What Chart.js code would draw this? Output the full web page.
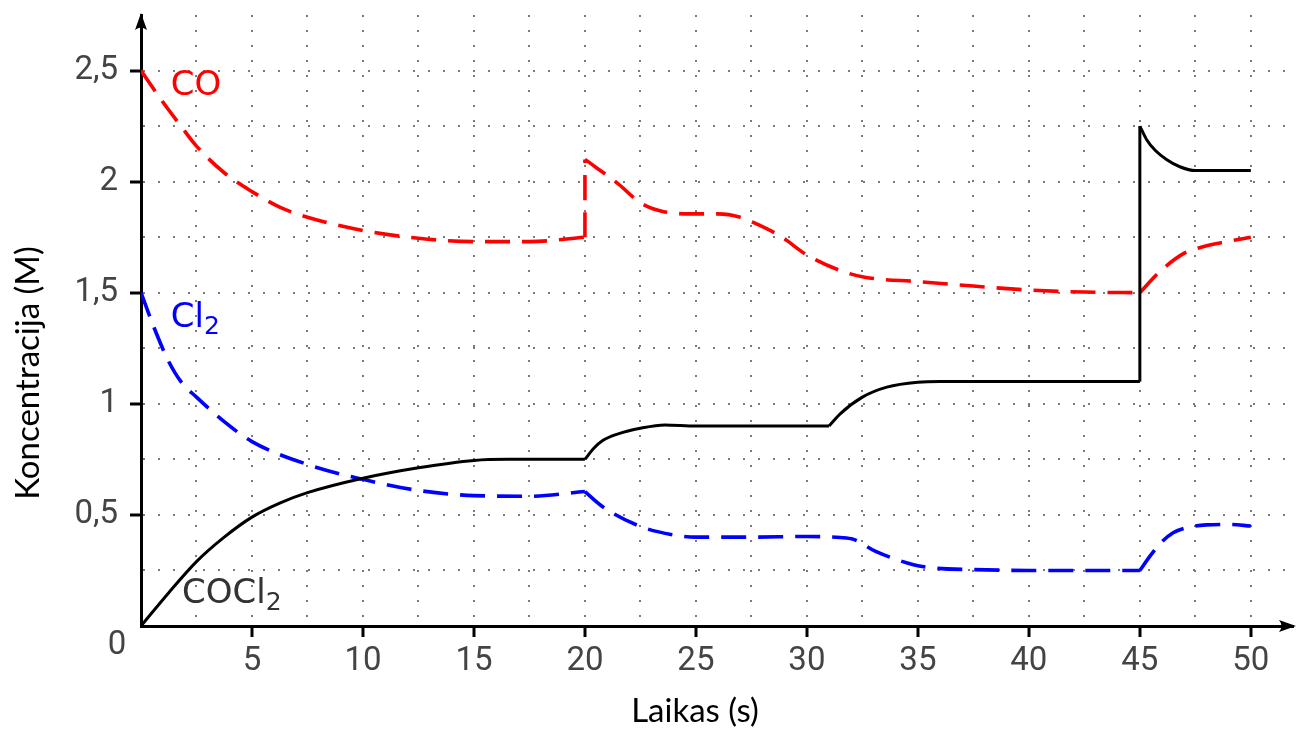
<!DOCTYPE html>
<html><head><meta charset="utf-8">
<script src="https://cdn.jsdelivr.net/npm/chart.js@4.4.1/dist/chart.umd.min.js"></script>
<style>html,body{margin:0;padding:0;background:#fff;}#wrap{width:1296px;height:729px;position:relative;}</style>
</head><body><div id="wrap"><canvas id="c" width="1296" height="729" style="width:1296px;height:729px"></canvas></div>
<script>
// ---- data (time in s, concentration in M) ----
const coTime   = [0,0.9,1.8,2.5,3.75,5,6.25,7.5,10,12.5,15,17.5,20, 20,21.5,22.5,23.5,24.8,26,27,27.5,28.8,30,31.5,32.6,35,37.5,40,42.5,45, 45.9,47,47.6,48.5,50];
const coConc   = [2.5,2.37,2.25,2.16,2.04,1.955,1.885,1.84,1.78,1.745,1.73,1.73,1.75, 2.1,1.99,1.905,1.866,1.855,1.855,1.84,1.82,1.755,1.67,1.6,1.57,1.55,1.53,1.512,1.503,1.5, 1.595,1.678,1.70,1.722,1.75];
const coBreaks = [20,45];

const cl2Time   = [0,0.6,1.2,1.8,2.5,3.75,5,7.5,10,12.5,15,17.5,20, 20.8,22.5,24,25,27.5,30,31.5,32.1,33.1,34.8,35.8,37.5,40,45, 45.5,46,46.5,47,48,49,50];
const cl2Conc   = [1.5,1.34,1.2,1.1,1.03,0.92,0.83,0.727,0.66,0.61,0.587,0.584,0.605, 0.537,0.448,0.41,0.40,0.40,0.403,0.398,0.39,0.336,0.276,0.26,0.254,0.25,0.25, 0.32,0.38,0.42,0.44,0.455,0.457,0.45];
const cl2Breaks = [20,45];

const cocl2Time   = [0,1.25,2.5,3.75,5,6.25,7.5,10,12.5,15,16.5,20, 20.4,20.8,21.5,22.5,23.6,25,28,31, 31.5,32.5,33.6,35,36,45, 45,45.3,45.7,46.2,46.8,47.5,50];
const cocl2Conc   = [0,0.15,0.29,0.40,0.49,0.553,0.60,0.665,0.712,0.745,0.75,0.75, 0.80,0.835,0.865,0.89,0.905,0.90,0.90,0.90, 0.955,1.03,1.075,1.097,1.1,1.1, 2.25,2.19,2.14,2.1,2.067,2.05,2.05];
const cocl2Breaks = [20,31,45];

const xTickLabels = [5,10,15,20,25,30,35,40,45,50];
const yTickLabels = ['0,5','1','1,5','2','2,5'];

const xMax = 51.9, yMax = 2.75;

// ---- helpers ----
function fontAvailable(name){
  const c=document.createElement('canvas').getContext('2d');
  c.font="40px monospace"; const a=c.measureText("0123456789 abc").width;
  c.font="40px '"+name+"', monospace"; const b=c.measureText("0123456789 abc").width;
  return a!==b;
}
const narrow = fontAvailable('Liberation Sans Narrow');
const tickFont = narrow ? {family:"'Liberation Sans Narrow'", size:36} : {family:"Roboto", size:33};
const labelFamily = "'DejaVu Sans', sans-serif";
const titleFamily = "Lato, 'Open Sans', sans-serif";

function segments(ts, vs, breaks){
  const segs=[]; let cur=[];
  for(let i=0;i<ts.length;i++){
    const p={x:ts[i],y:vs[i]};
    cur.push(p);
    if(breaks.includes(ts[i]) && cur.length>1){ segs.push(cur); cur=[p]; }
  }
  if(cur.length>1) segs.push(cur);
  return segs;
}
function makeSets(ts, vs, breaks, color, dash, width){
  return segments(ts, vs, breaks).map(seg=>({
    data: seg, borderColor: color, borderWidth: width, borderDash: dash,
    pointRadius: 0, fill:false, cubicInterpolationMode:'monotone', borderCapStyle:'butt'
  }));
}
const datasets = [
  ...makeSets(cocl2Time, cocl2Conc, cocl2Breaks, '#000000', [], 3),
  ...makeSets(cl2Time, cl2Conc, cl2Breaks, '#0000ff', [25,12], 3.6),
  ...makeSets(coTime, coConc, coBreaks, '#ff0000', [25,12], 3.6),
];

const near = (a,b)=>Math.abs(a-b)<1e-6;
const isX = v => xTickLabels.some(t=>near(t,v));
const yVals = yTickLabels.map(s=>parseFloat(s.replace(',','.')));
const isY = v => yVals.some(t=>near(t,v));

const decor = {
  id:'decor',
  afterDraw(chart){
    const {ctx, chartArea:a, scales:{x,y}} = chart;
    ctx.save();
    ctx.fillStyle='#000';
    let cx=a.left, ty=a.top-2;
    ctx.beginPath(); ctx.moveTo(cx,ty); ctx.lineTo(cx-6,ty+17); ctx.quadraticCurveTo(cx,ty+12,cx+6,ty+17); ctx.closePath(); ctx.fill();
    let tx=a.right+3, cy=a.bottom;
    ctx.beginPath(); ctx.moveTo(tx,cy); ctx.lineTo(tx-17,cy-6); ctx.quadraticCurveTo(tx-12,cy,tx-17,cy+6); ctx.closePath(); ctx.fill();
    ctx.font = tickFont.size+"px "+tickFont.family;
    ctx.fillStyle='#444'; ctx.textAlign='center'; ctx.textBaseline='middle';
    ctx.fillText('0', a.left-24, a.bottom+20);
    function chem(parts, t, c, color){
      let px=x.getPixelForValue(t), py=y.getPixelForValue(c);
      ctx.fillStyle=color; ctx.textAlign='left'; ctx.textBaseline='alphabetic';
      for(const [txt,sub] of parts){
        ctx.font = (sub?25:34)+"px "+labelFamily;
        ctx.fillText(txt, px, py+(sub?7:0));
        px += ctx.measureText(txt).width;
      }
    }
    chem([['CO',false]], 1.34, 2.39, '#ff0000');
    chem([['Cl',false],['2',true]], 1.34, 1.347, '#0000ff');
    chem([['COCl',false],['2',true]], 1.85, 0.104, '#333333');
    ctx.fillStyle='#000'; ctx.font="33px "+titleFamily; ctx.textAlign='center'; ctx.textBaseline='middle';
    ctx.fillText('Laikas (s)', 695, 711);
    ctx.translate(28, 373); ctx.rotate(-Math.PI/2);
    ctx.fillText('Koncentracija (M)', 0, 0);
    ctx.restore();
  }
};

const gridColor = '#7a7a7a';
new Chart(document.getElementById('c'), {
  type:'line',
  data:{datasets},
  options:{
    responsive:false, animation:false, devicePixelRatio:1,
    layout:{padding:{top:15, right:3, left:0, bottom:0}},
    plugins:{legend:{display:false}, tooltip:{enabled:false}},
    scales:{
      x:{type:'linear', min:0, max:xMax,
        afterFit:(s)=>{s.height=103; s.paddingLeft=0; s.paddingRight=0; s.paddingTop=0; s.paddingBottom=0;},
        ticks:{stepSize:2.5, includeBounds:false, autoSkip:false, maxRotation:0, padding:5,
          font:{...tickFont, lineHeight:1.2}, color:'#444',
          callback:(v)=> isX(v) ? String(v) : ''},
        grid:{lineWidth:2, tickLength:11, tickWidth:3,
          color:(c)=> (c.tick && c.tick.value>0.01 && c.tick.value<50.01) ? gridColor : 'rgba(0,0,0,0)',
          tickColor:(c)=> (c.tick && isX(c.tick.value)) ? '#000' : 'rgba(0,0,0,0)'},
        border:{display:true, color:'#000', width:3, dash:[2,13]}
      },
      y:{type:'linear', min:0, max:yMax,
        afterFit:(s)=>{s.width=141; s.paddingLeft=0; s.paddingRight=0; s.paddingTop=0; s.paddingBottom=0;},
        ticks:{stepSize:0.25, includeBounds:false, autoSkip:false, padding:12,
          font:{...tickFont, lineHeight:1.2}, color:'#444',
          callback:(v)=> isY(v) ? String(+v.toFixed(2)).replace('.',',') : ''},
        grid:{lineWidth:2, tickLength:11, tickWidth:3,
          color:(c)=> (c.tick && c.tick.value>0.01 && c.tick.value<2.51) ? gridColor : 'rgba(0,0,0,0)',
          tickColor:(c)=> (c.tick && isY(c.tick.value)) ? '#000' : 'rgba(0,0,0,0)'},
        border:{display:true, color:'#000', width:3, dash:[2,13]}
      }
    }
  },
  plugins:[decor]
});
</script></body></html>
